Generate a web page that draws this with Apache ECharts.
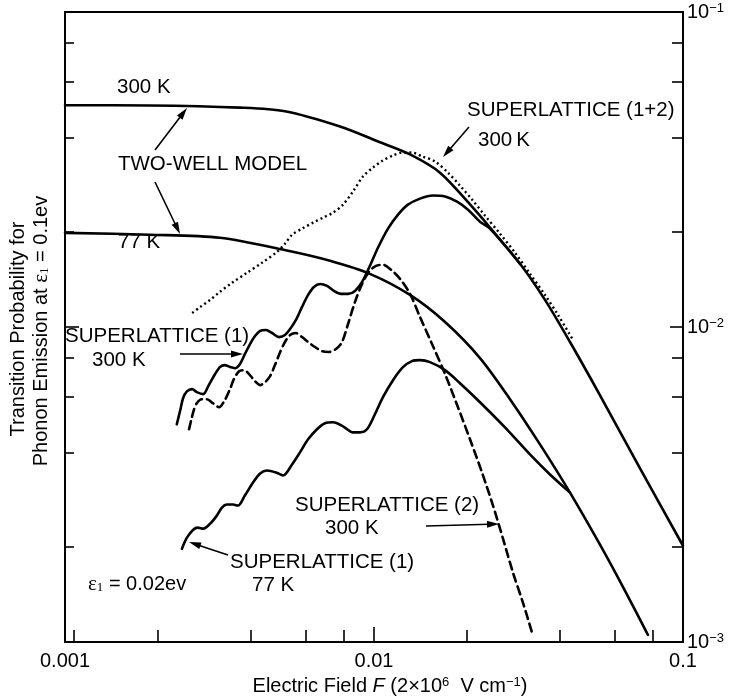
<!DOCTYPE html>
<html><head><meta charset="utf-8">
<script src="https://cdn.jsdelivr.net/npm/echarts@6/dist/echarts.min.js"></script>
<style>html,body{margin:0;padding:0;background:#fff}#c{width:729px;height:700px}</style>
</head><body><div id="c"></div>
<script>
// ---- tick values ----
const xTicksMinor = [0.00107, 0.002, 0.004, 0.006, 0.008, 0.02, 0.04, 0.06, 0.08];
const xTicksMajor = [0.01];
const xTickLabels = [0.001, 0.01, 0.1];
const xTickText = ['0.001', '0.01', '0.1'];
const yTicksMinor = [0.002, 0.004, 0.006, 0.008, 0.02, 0.04, 0.06, 0.08];
const yTicksMajor = [0.01];
const yTickLabels = [0.001, 0.01, 0.1];

// ---- series values [F, probability] ----
const twoWell300K = [[0.001,0.0506],[0.00188,0.0505],[0.00368,0.0497],[0.00515,0.0484],[0.00776,0.0433],[0.01046,0.0386],[0.01308,0.0353],[0.01635,0.0309],[0.02045,0.0245],[0.02373,0.0207],[0.02969,0.01587],[0.03576,0.01219],[0.04309,0.00896],[0.05388,0.00607],[0.07259,0.003556],[0.1,0.002021]];
const twoWell77K = [[0.001,0.0199],[0.00188,0.01963],[0.00317,0.0192],[0.00527,0.01746],[0.0072,0.01623],[0.0097,0.01475],[0.01308,0.01264],[0.01698,0.01037],[0.02203,0.00797],[0.02755,0.0059],[0.03445,0.00424],[0.04309,0.00298],[0.05388,0.002036],[0.06493,0.001453],[0.077,0.001053]];
const sl1_77K = [[0.00239,0.001978],[0.00248,0.002144],[0.0026,0.002273],[0.00269,0.002307],[0.0028,0.00229],[0.00295,0.002375],[0.0031,0.002519],[0.00322,0.002672],[0.00334,0.002731],[0.0035,0.002731],[0.00363,0.002711],[0.00382,0.002917],[0.00406,0.003209],[0.00428,0.003428],[0.0045,0.003504],[0.00482,0.003453],[0.00508,0.003378],[0.00543,0.003662],[0.00576,0.004],[0.00612,0.0044],[0.00654,0.004735],[0.00694,0.004946],[0.00737,0.004982],[0.00794,0.004838],[0.00855,0.00463],[0.00901,0.00463],[0.00949,0.004735],[0.01007,0.005283],[0.01069,0.005985],[0.01152,0.00678],[0.01241,0.007457],[0.01327,0.007794],[0.01409,0.00785],[0.01518,0.007734],[0.01698,0.007294],[0.01898,0.00663],[0.02203,0.00577],[0.02654,0.0048],[0.03197,0.00394],[0.03712,0.003403],[0.04309,0.00298]];
const sl1_300K = [[0.0023,0.00491],[0.00236,0.00544],[0.00241,0.00594],[0.00248,0.00625],[0.00258,0.00635],[0.00267,0.00621],[0.0028,0.00612],[0.00292,0.00654],[0.00306,0.00709],[0.00317,0.00746],[0.00329,0.00757],[0.00342,0.00746],[0.00355,0.0074],[0.00368,0.00762],[0.00382,0.0082],[0.00397,0.00883],[0.00412,0.00936],[0.00428,0.00972],[0.00447,0.00978],[0.00468,0.00957],[0.00493,0.00929],[0.00515,0.00943],[0.00535,0.00985],[0.00559,0.01053],[0.00585,0.01158],[0.00612,0.01264],[0.00639,0.0134],[0.00669,0.0137],[0.00705,0.0135],[0.00742,0.01302],[0.00782,0.01274],[0.00824,0.01274],[0.00868,0.01302],[0.00915,0.0139],[0.0097,0.01564],[0.0103,0.01785],[0.0111,0.02052],[0.01196,0.02274],[0.01288,0.02446],[0.01409,0.02556],[0.01552,0.02614],[0.01698,0.02594],[0.01856,0.025],[0.02015,0.02358],[0.02203,0.0216],[0.02373,0.02052],[0.02969,0.01587]];
const sl2_300K = [[0.00252,0.004735],[0.00256,0.005056],[0.00261,0.00544],[0.00267,0.00573],[0.00277,0.0059],[0.00288,0.0059],[0.00301,0.00573],[0.00315,0.00556],[0.00329,0.00586],[0.00342,0.00635],[0.00352,0.00683],[0.00366,0.00724],[0.0038,0.007294],[0.00394,0.00709],[0.00412,0.00673],[0.00428,0.00654],[0.00444,0.00668],[0.00461,0.00698],[0.00478,0.00757],[0.00497,0.00833],[0.00515,0.00896],[0.00535,0.00943],[0.00559,0.00957],[0.00585,0.00929],[0.00612,0.00896],[0.00644,0.00864],[0.00679,0.00838],[0.00715,0.00833],[0.00753,0.00851],[0.00788,0.00896],[0.00824,0.01022],[0.00868,0.01201],[0.00915,0.0137],[0.00963,0.01497],[0.01015,0.01564],[0.01069,0.01576],[0.01135,0.0152],[0.01214,0.01422],[0.01308,0.01274],[0.01409,0.01076],[0.01541,0.00883],[0.01698,0.00709],[0.0187,0.00556],[0.02045,0.0044],[0.02236,0.003453],[0.02427,0.002711],[0.02615,0.002128],[0.02818,0.001658],[0.03036,0.001331],[0.0327,0.001045]];
const sl12_300K = [[0.00258,0.01108],[0.00274,0.01158],[0.00295,0.01219],[0.00317,0.01292],[0.00347,0.01381],[0.00388,0.01486],[0.00434,0.01599],[0.00486,0.01733],[0.00515,0.01838],[0.00543,0.01963],[0.00585,0.02052],[0.00635,0.02144],[0.00684,0.02224],[0.00737,0.02307],[0.00794,0.02446],[0.00855,0.02691],[0.00921,0.03004],[0.00993,0.03209],[0.01069,0.03378],[0.01152,0.03504],[0.01241,0.03582],[0.01327,0.03582],[0.0143,0.0348],[0.01576,0.03353],[0.01736,0.0309],[0.01898,0.02812],[0.02076,0.02539],[0.02287,0.02257],[0.02557,0.01978],[0.0286,0.01721],[0.03197,0.01475],[0.03576,0.01264],[0.0394,0.01092],[0.04406,0.00909]];

const FONT = '"Liberation Sans", Arial, Helvetica, sans-serif';
const SERIF = '"Liberation Serif", "DejaVu Serif", serif';
const chart = echarts.init(document.getElementById('c'), null, {renderer: 'canvas'});

function logAxis(extra) {
  return Object.assign({
    type: 'log', logBase: 10, min: 0.001, max: 0.1,
    axisLine: {show: true, lineStyle: {color: '#000', width: 2}},
    splitLine: {show: false}, minorTick: {show: false},
    axisLabel: {show: false}
  }, extra);
}
const expLabel = v => Math.round(Math.log10(v));

function arrow(x1, y1, x2, y2) {
  const a = Math.atan2(y2 - y1, x2 - x1), L = 12, W = 3.5;
  const bx = x2 - L * Math.cos(a), by = y2 - L * Math.sin(a);
  const px = -Math.sin(a) * W, py = Math.cos(a) * W;
  return [
    {type: 'line', shape: {x1: x1, y1: y1, x2: bx + Math.cos(a) * 2, y2: by + Math.sin(a) * 2}, style: {stroke: '#000', lineWidth: 1.6}},
    {type: 'polygon', shape: {points: [[x2, y2], [bx + px, by + py], [bx - px, by - py]]}, style: {fill: '#000'}}
  ];
}
function txt(x, y, text, extra) {
  return {type: 'text', x: x, y: y, style: Object.assign({text: text, fontSize: 20.5, fontFamily: FONT, fill: '#000', align: 'left', verticalAlign: 'middle'}, extra || {})};
}
const richBase = {
  n: {fontSize: 20, fontFamily: FONT, color: '#000'},
  i: {fontSize: 20, fontFamily: FONT, fontStyle: 'italic', color: '#000'},
  s: {fontSize: 13, fontFamily: FONT, verticalAlign: 'top', color: '#000'},
  e: {fontSize: 21, fontFamily: SERIF, color: '#000'},
  u: {fontSize: 13, fontFamily: SERIF, verticalAlign: 'bottom', color: '#000'}
};

const lineSeries = (name, data, type, extra) => Object.assign({
  name: name, type: 'line', data: data, xAxisIndex: 0, yAxisIndex: 0,
  showSymbol: false, smooth: 0.3, z: 3,
  lineStyle: {color: '#000', width: 2.6, type: type, cap: 'round'}
}, extra || {});

const option = {
  backgroundColor: '#fff',
  animation: false,
  grid: {left: 65, top: 12, width: 618, height: 630, show: true, borderColor: '#000', borderWidth: 2, backgroundColor: 'transparent'},
  xAxis: [
    logAxis({position: 'bottom', axisTick: {show: true, inside: true, length: 12, lineStyle: {color: '#000', width: 1.6}, customValues: xTicksMinor}}),
    logAxis({position: 'bottom', axisTick: {show: true, inside: true, length: 15, lineStyle: {color: '#000', width: 1.6}, customValues: xTicksMajor},
      axisLabel: {show: true, customValues: xTickLabels, color: '#000', fontSize: 20, fontFamily: FONT, margin: 9,
        formatter: v => xTickText[expLabel(v) + 3]}})
  ],
  yAxis: [
    logAxis({position: 'left', axisTick: {show: true, inside: true, length: 9, lineStyle: {color: '#000', width: 1.6}, customValues: yTicksMinor}}),
    logAxis({position: 'left', axisTick: {show: true, inside: true, length: 14, lineStyle: {color: '#000', width: 1.6}, customValues: yTicksMajor}}),
    logAxis({position: 'right', axisTick: {show: true, inside: true, length: 11, lineStyle: {color: '#000', width: 1.6}, customValues: yTicksMinor},
      axisLabel: {show: true, customValues: yTickLabels, margin: 4, formatter: v => '{b|10}{s|\u2212' + (-expLabel(v)) + '}',
        rich: {b: {fontSize: 20, fontFamily: FONT, color: '#000'}, s: {fontSize: 13, fontFamily: FONT, color: '#000', verticalAlign: 'top'}}}}),
    logAxis({position: 'right', axisTick: {show: true, inside: true, length: 13, lineStyle: {color: '#000', width: 1.6}, customValues: yTicksMajor}})
  ],
  series: [
    lineSeries('Two-well 300 K', twoWell300K, 'solid'),
    lineSeries('Two-well 77 K', twoWell77K, 'solid'),
    lineSeries('Superlattice (1) 300 K', sl1_300K, 'solid'),
    lineSeries('Superlattice (1) 77 K', sl1_77K, 'solid'),
    lineSeries('Superlattice (2) 300 K', sl2_300K, [8, 5]),
    lineSeries('Superlattice (1+2) 300 K', sl12_300K, [2, 3], {lineStyle: {color: '#000', width: 2.4, type: [2, 3], cap: 'butt'}})
  ],
  graphic: [].concat(
    [
      txt(117, 87, '300 K'),
      txt(118, 164, 'TWO-WELL MODEL'),
      txt(118, 242, '77 K'),
      txt(467, 110, 'SUPERLATTICE (1+2)'),
      txt(478, 140, '300\u2009K'),
      txt(65, 336, 'SUPERLATTICE (1)'),
      txt(92, 360, '300 K'),
      txt(295, 505, 'SUPERLATTICE (2)'),
      txt(325, 528, '300 K'),
      txt(230, 562, 'SUPERLATTICE (1)'),
      txt(252, 585, '77 K'),
      {type: 'text', x: 88, y: 584, style: {text: '{e|\u03b5}{u|1}{n| = 0.02ev}', rich: richBase, align: 'left', verticalAlign: 'middle'}},
      {type: 'text', x: 390, y: 686, style: {text: '{n|Electric Field }{i|F}{n| (2\u00d710}{s|6}{n|  V cm}{s|\u22121}{n|)}', rich: richBase, align: 'center', verticalAlign: 'middle'}},
      {type: 'text', x: 18, y: 329, rotation: Math.PI / 2, style: {text: 'Transition Probability for', fontSize: 20, fontFamily: FONT, fill: '#000', align: 'center', verticalAlign: 'middle'}},
      {type: 'text', x: 41, y: 331, rotation: Math.PI / 2, style: {text: '{n|Phonon Emission at }{e|\u03b5}{u|1}{n| = 0.1ev}', rich: richBase, align: 'center', verticalAlign: 'middle'}}
    ],
    arrow(155, 150, 187, 108),
    arrow(155, 182, 180, 234),
    arrow(469, 127, 443, 157),
    arrow(180, 354, 243, 354),
    arrow(426, 526, 499, 524),
    arrow(228, 555, 189, 542)
  )
};
chart.setOption(option);
</script>
</body></html>
